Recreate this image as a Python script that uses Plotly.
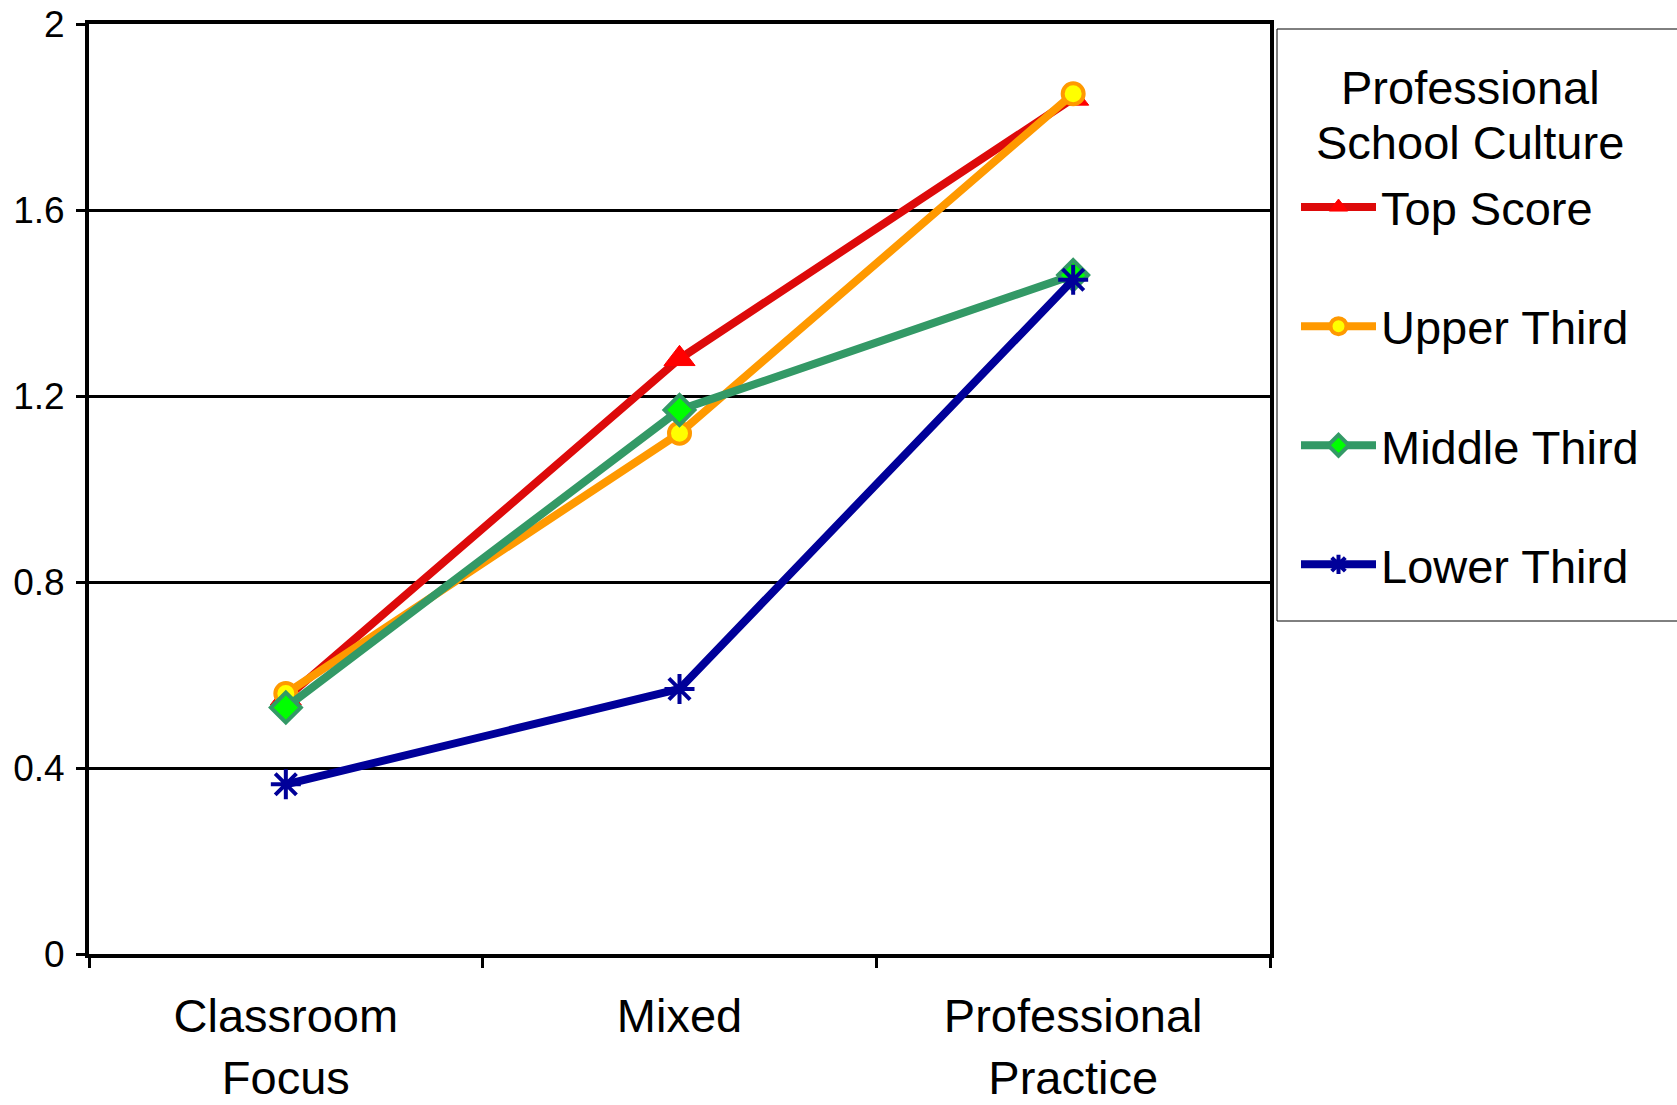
import plotly.graph_objects as go

categories = ["Classroom<br>Focus", "Mixed", "Professional<br>Practice"]
series_names = ["Top Score", "Upper Third", "Middle Third", "Lower Third"]
top_score = [0.55, 1.28, 1.84]
upper_third = [0.56, 1.12, 1.85]
middle_third = [0.53, 1.17, 1.46]
lower_third = [0.365, 0.57, 1.45]
y_ticks = [0, 0.4, 0.8, 1.2, 1.6, 2]
y_tick_labels = ["0", "0.4", "0.8", "1.2", "1.6", "2"]
legend_title_lines = ["Professional", "School Culture"]

FONT = "Liberation Sans, Arial, sans-serif"

W, H = 1677, 1105
L, T, B, R = 89, 24, 151, 407
PH = H - T - B  # plot height in px
PW = W - L - R  # plot width in px

styles = [
    dict(line=dict(color="#DD0A0A", width=8),
         marker=dict(symbol="triangle-up", size=27, color="#FF0000",
                     line=dict(color="#FF0000", width=1))),
    dict(line=dict(color="#FF9900", width=8),
         marker=dict(symbol="circle", size=21, color="#FFFF00",
                     line=dict(color="#FF9900", width=4))),
    dict(line=dict(color="#339966", width=8),
         marker=dict(symbol="diamond", size=23, color="#00FF00",
                     line=dict(color="#339966", width=4))),
    dict(line=dict(color="#000099", width=8),
         marker=dict(symbol="asterisk", size=25, color="#000099",
                     line=dict(color="#000099", width=4))),
]

fig = go.Figure()
for name, vals, st in zip(series_names, [top_score, upper_third, middle_third, lower_third], styles):
    fig.add_trace(go.Scatter(
        x=categories, y=vals, name=name, mode="lines+markers",
        line=st["line"], marker=st["marker"], legendgroup=name,
    ))

def px_x(page_x):
    return (page_x - L) / PW

def px_y(page_y):
    return 1 - (page_y - T) / PH

annotations = []
for line_text, cy in zip(legend_title_lines, [87, 142]):
    annotations.append(dict(text=line_text, xref="paper", yref="paper",
                            x=px_x(1470), y=px_y(cy), xanchor="center", yanchor="middle",
                            showarrow=False, font=dict(size=47, family=FONT)))

fig.update_layout(
    width=W, height=H,
    margin=dict(l=L, r=R, t=T, b=B),
    paper_bgcolor="white", plot_bgcolor="white",
    font=dict(family=FONT, color="black"),
    showlegend=True,
    legend=dict(
        x=px_x(1296), xanchor="left", y=px_y(170), yanchor="top",
        font=dict(size=47, family=FONT),
        bgcolor="rgba(0,0,0,0)", borderwidth=0,
        tracegroupgap=55, itemwidth=75,
    ),
    annotations=annotations,
    shapes=[dict(type="rect", xref="paper", yref="paper",
                 x0=px_x(1277), x1=px_x(1700), y0=px_y(621), y1=px_y(29),
                 line=dict(color="black", width=1), fillcolor="rgba(0,0,0,0)",
                 layer="below")],
)

fig.update_xaxes(
    type="category", range=[-0.5, 2.5], showgrid=False, automargin=False,
    showline=True, linecolor="black", linewidth=4, mirror=True,
    ticks="outside", tickson="boundaries", ticklen=10, tickwidth=3, tickcolor="black",
    tickfont=dict(size=47, family=FONT), ticklabelstandoff=18,
    ticklabeloverflow="allow",
)
fig.update_yaxes(
    range=[0, 2], tickvals=y_ticks, ticktext=y_tick_labels, automargin=False,
    showgrid=True, gridcolor="black", gridwidth=3,
    showline=True, linecolor="black", linewidth=4, mirror=True,
    ticks="outside", ticklen=9, tickwidth=3, tickcolor="black",
    tickfont=dict(size=37, family=FONT), ticklabelstandoff=4,
    ticklabeloverflow="allow",
    zeroline=False,
)

fig.write_html(
    "out.html",
    config={"displayModeBar": False},
    post_script="document.body.style.margin='0';document.body.style.overflow='hidden';",
)
